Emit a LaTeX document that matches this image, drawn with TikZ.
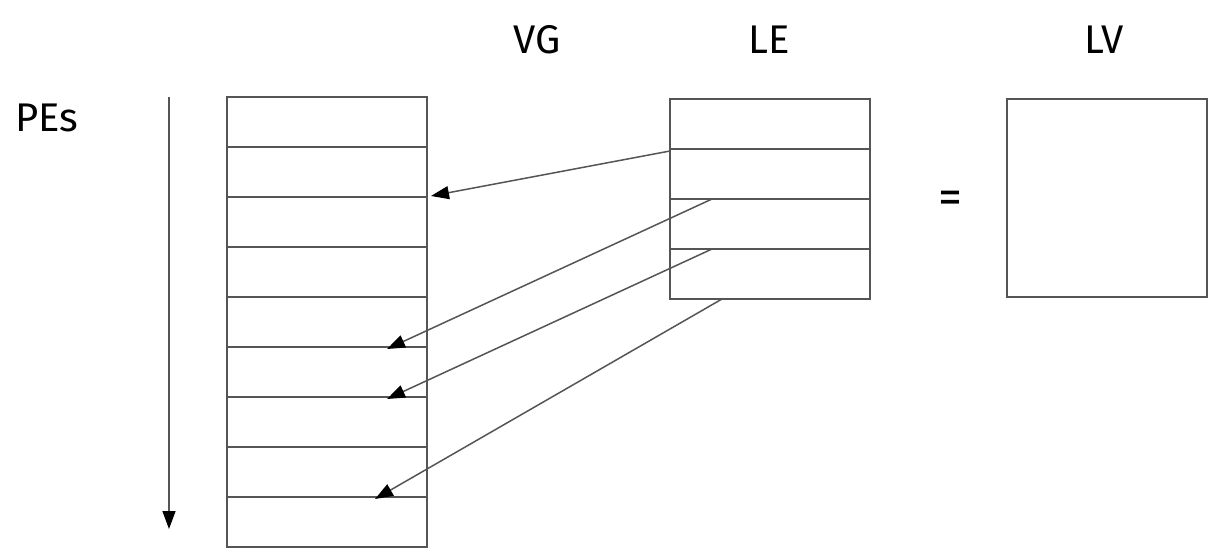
\documentclass[tikz,border=0pt]{standalone}
\usepackage{fontspec}
\setmainfont{Fira Sans}
\usetikzlibrary{arrows.meta}
\definecolor{linegray}{HTML}{555555}
\begin{document}
\begin{tikzpicture}[x=1pt,y=-1pt,
  cell/.style={draw=linegray,line width=1.6pt,minimum width=200pt,minimum height=50pt,inner sep=0pt,outer sep=0pt,anchor=north west},
  bigbox/.style={draw=linegray,line width=1.6pt,minimum width=200pt,minimum height=198pt,inner sep=0pt,outer sep=0pt,anchor=north west},
  lbl/.style={font=\fontsize{40}{40}\selectfont,text=black},
  conn/.style={draw=linegray,line width=1.5pt,-{Triangle[length=18pt,width=13pt,color=black]}}]
\useasboundingbox (0,0) rectangle (1208,548);
% VG column
\foreach \i in {1,...,9}{
  \node[cell] (v\i) at (227,{97+50*(\i-1)}) {};
}
% LE column
\foreach \i in {1,...,4}{
  \node[cell] (le\i) at (670,{99+50*(\i-1)}) {};
}
% LV box
\node[bigbox] (lv) at (1007,99) {};
% labels
\node[lbl] (tvg) at (537,40) {VG};
\node[lbl] (tle) at (769,40) {LE};
\node[lbl] (tlv) at (1104,40) {LV};
\node[lbl] (tpes) at (47,118) {PEs};
\node[lbl,font=\fontsize{48}{48}\selectfont] (teq) at (950,202) {=};
% PE axis arrow
\coordinate (axs) at (169,97);
\coordinate (axe) at (169,529);
\draw[conn] (axs) -- (axe);
% mapping arrows
\draw[conn] ([yshift=-2pt]le1.south west) -- ([xshift=4pt,yshift=1pt]v2.south east);
\draw[conn] ([xshift=42pt]le2.south west) -- ([xshift=60pt,yshift=-2pt]v5.south);
\draw[conn] ([xshift=42pt]le3.south west) -- ([xshift=60pt,yshift=-2pt]v6.south);
\draw[conn] ([xshift=52pt]le4.south west) -- ([xshift=48pt,yshift=-2pt]v8.south);
\end{tikzpicture}
\end{document}
